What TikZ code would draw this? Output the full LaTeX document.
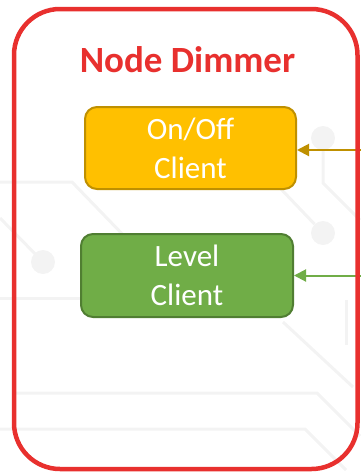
\documentclass[tikz,border=0pt]{standalone}
\usepackage{fontspec}
\setmainfont{Carlito}
\usetikzlibrary{arrows.meta}
\definecolor{frame}{HTML}{E8302E}
\definecolor{onoff}{HTML}{FFC000}
\definecolor{onoffline}{HTML}{BF9000}
\definecolor{level}{HTML}{70AD47}
\definecolor{levelline}{HTML}{507E32}
\definecolor{trace}{HTML}{F3F3F3}
\tikzset{
  client/.style={draw, line width=2pt, rounded corners=12pt, minimum width=210pt,
    minimum height=82pt, align=center, text=white,
    font=\fontsize{31}{39}\selectfont},
  feed/.style={line width=2pt, -{Triangle[length=12pt,width=12pt]}},
  trace/.style={draw=trace, line width=3pt},
  pad/.style={fill=trace, circle, inner sep=0pt, minimum size=24pt}
}
\begin{document}
\begin{tikzpicture}[x=1pt, y=-1pt]
\useasboundingbox (0,0) rectangle (360,472);
% faint circuit traces in the background
\draw[trace] (0,182) -- (72,182) -- (130,242);
\draw[trace] (0,218) -- (43,262);
\node[pad] (p1) at (43,262) {};
\draw[trace] (0,298) -- (90,298);
\draw[trace] (15,393) -- (317,393) -- (360,436);
\draw[trace] (0,429) -- (305,429) -- (346,470);
\node[pad] (p2) at (323,138) {};
\draw[trace] (p2) -- (323,183) -- (360,220);
\node[pad] (p3) at (323,233) {};
\draw[trace] (280,188) -- (p3);
\draw[trace] (283,322) -- (353,387);
\draw[trace] (346,300) -- (346,345);
% title
\node[font=\fontsize{37}{44}\selectfont\bfseries, text=frame, anchor=base] (title) at (187.5,72) {Node Dimmer};
% client nodes
\node[client, fill=onoff, draw=onoffline, minimum width=211pt] (onoff) at (190.5,148) {On/Off\\Client};
\node[client, fill=level, draw=levelline, minimum width=212pt, minimum height=83pt] (level) at (187,275.5) {Level\\Client};
% incoming connectors
\coordinate (oin) at (362,150);
\coordinate (lin) at (362,275.5);
\draw[feed, onoffline] (oin) -- (oin -| onoff.east);
\draw[feed, level] (lin) -- (level.east);
% outer frame
\draw[frame, line width=4.5pt, rounded corners=46pt] (14,9) rectangle (357.5,469);
\end{tikzpicture}
\end{document}
